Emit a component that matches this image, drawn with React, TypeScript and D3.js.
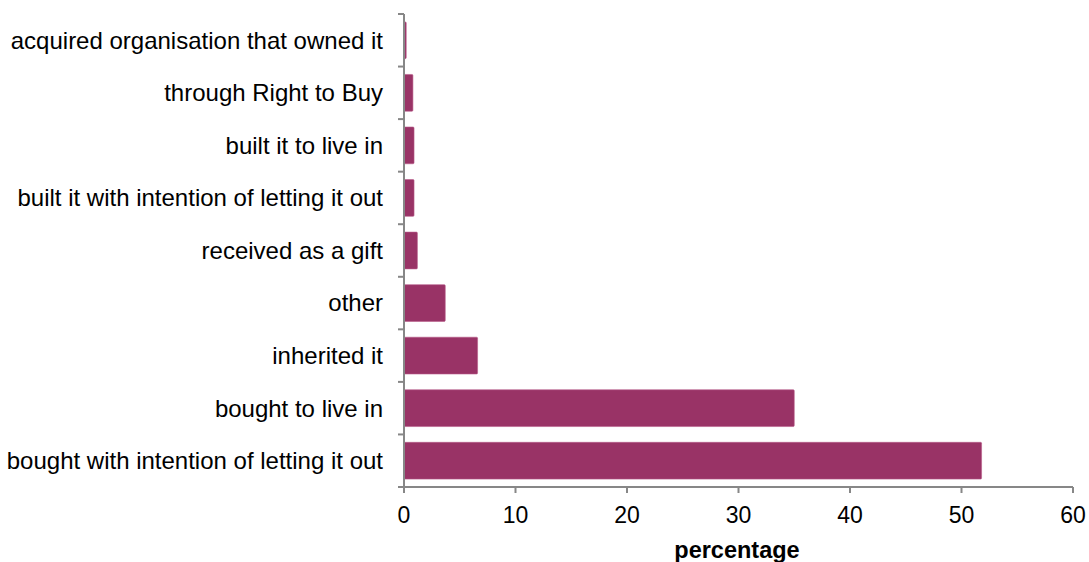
import React from "react";
import * as d3 from "d3";

const categories = [
  "acquired organisation that owned it",
  "through Right to Buy",
  "built it to live in",
  "built it with intention of letting it out",
  "received as a gift",
  "other",
  "inherited it",
  "bought to live in",
  "bought with intention of letting it out",
];
const values = [0.2, 0.8, 0.9, 0.9, 1.2, 3.7, 6.6, 35.0, 51.8];
const xTicks = [0, 10, 20, 30, 40, 50, 60];

const W = 1089;
const H = 562;
const left = 404;
const right = 1073;
const top = 14;
const bottom = 487;
const font = "Arial, 'Liberation Sans', sans-serif";
const axisColor = "#878787";

const App = () => {
  const x = d3.scaleLinear().domain([0, 60]).range([left, right]);
  const y = d3.scaleBand().domain(categories).range([top, bottom]).paddingInner(0.3).paddingOuter(0.15);
  const bandEdges = d3.range(categories.length + 1).map(i => top + (i * (bottom - top)) / categories.length);

  return (
    <svg width={W} height={H} style={{ position: "absolute", left: 0, top: 0, background: "#fff" }}>
      {categories.map((c, i) => (
        <rect
          key={c}
          x={x(0)}
          y={y(c)}
          width={Math.max(x(values[i]) - x(0), 1)}
          height={y.bandwidth()}
          fill="#993366"
          stroke="#b85c8a"
          strokeWidth={0.6}
          rx={1}
        />
      ))}
      <line x1={left} x2={left} y1={top} y2={bottom} stroke={axisColor} strokeWidth={2} />
      <line x1={left} x2={right} y1={bottom} y2={bottom} stroke={axisColor} strokeWidth={2} />
      {bandEdges.map((e, i) => (
        <line key={"yt" + i} x1={left - 6} x2={left} y1={e} y2={e} stroke={axisColor} strokeWidth={2} />
      ))}
      {xTicks.map(t => (
        <g key={"xt" + t}>
          <line x1={x(t)} x2={x(t)} y1={bottom} y2={bottom + 6} stroke={axisColor} strokeWidth={2} />
          <text x={x(t)} y={523} textAnchor="middle" fontFamily={font} fontSize={23} fill="#000">
            {t}
          </text>
        </g>
      ))}
      {categories.map(c => (
        <text
          key={"l" + c}
          x={383}
          y={(y(c) as number) + y.bandwidth() / 2}
          dy="0.35em"
          textAnchor="end"
          fontFamily={font}
          fontSize={24}
          fill="#000"
        >
          {c}
        </text>
      ))}
      <text x={737} y={558} textAnchor="middle" fontFamily={font} fontSize={23.5} fontWeight="bold" fill="#000">
        percentage
      </text>
    </svg>
  );
};

export default App;
